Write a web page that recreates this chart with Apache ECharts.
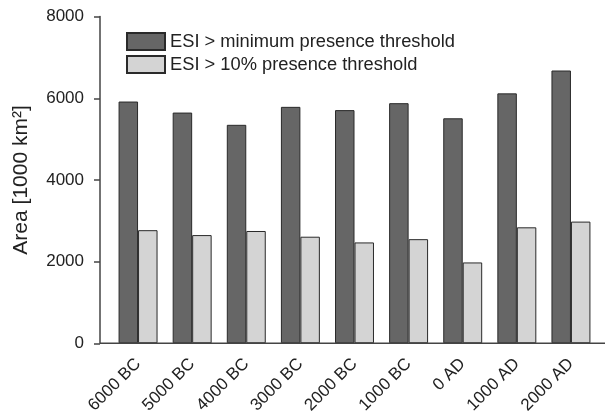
<!DOCTYPE html>
<html lang="en">
  <head>
    <meta charset="UTF-8" />
    <title>ESI area</title>
    <script src="https://cdn.jsdelivr.net/npm/echarts@6/dist/echarts.min.js"></script>
    <style>
      html, body { margin: 0; padding: 0; background: #fff; }
      #main { width: 605px; height: 418px; }
    </style>
  </head>
  <body>
    <div id="main"></div>
    <script>
      // data
      var periods = ["6000 BC", "5000 BC", "4000 BC", "3000 BC", "2000 BC", "1000 BC", "0 AD", "1000 AD", "2000 AD"];
      var minThreshold = [5920, 5650, 5350, 5790, 5710, 5880, 5510, 6120, 6680];
      var tenPctThreshold = [2770, 2650, 2750, 2610, 2470, 2550, 1980, 2840, 2980];
      var seriesNames = ["ESI > minimum presence threshold", "ESI > 10% presence threshold"];

      var chart = echarts.init(document.getElementById("main"));
      var font = "Liberation Sans, Arial, sans-serif";

      var option = {
        animation: false,
        textStyle: { fontFamily: font },
        grid: { left: 111, right: 7, top: 16.6, bottom: 74.7 },
        legend: {
          orient: "vertical",
          left: 121,
          top: 27,
          icon: "rect",
          itemWidth: 38,
          itemHeight: 17,
          itemGap: 4,
          textStyle: { fontSize: 18.3, color: "#222", fontFamily: font },
          data: seriesNames
        },
        xAxis: {
          type: "category",
          data: periods,
          axisLine: { show: false },
          axisTick: { alignWithLabel: true, length: 6, lineStyle: { color: "#444", width: 1.5 } },
          axisLabel: {
            rotate: 45,
            margin: 18,
            fontSize: 17,
            color: "#222",
            fontFamily: font
          }
        },
        yAxis: {
          type: "value",
          min: 0,
          max: 8000,
          interval: 2000,
          offset: 11,
          name: "Area [1000 km²]",
          nameLocation: "middle",
          nameGap: 68,
          nameTextStyle: { fontSize: 21, color: "#222", fontFamily: font },
          axisLine: { show: true, lineStyle: { color: "#444", width: 1.5 } },
          axisTick: { show: true, length: 6, lineStyle: { color: "#444", width: 1.5 } },
          axisLabel: {
            fontSize: 17,
            color: "#222",
            margin: 16,
            fontFamily: font,
            formatter: function (v) { return String(v); }
          },
          splitLine: { show: false }
        },
        graphic: [
          {
            // baseline spanning the full plot width
            type: "line",
            shape: { x1: 100, y1: 343.3, x2: 605, y2: 343.3 },
            style: { stroke: "#444", lineWidth: 1.5 },
            z: 10
          }
        ],
        series: [
          {
            name: seriesNames[0],
            type: "bar",
            data: minThreshold,
            barGap: "0%",
            barCategoryGap: "28%",
            itemStyle: { color: "#666666", borderColor: "#2a2a2a", borderWidth: 1 }
          },
          {
            name: seriesNames[1],
            type: "bar",
            data: tenPctThreshold,
            itemStyle: { color: "#d4d4d4", borderColor: "#2a2a2a", borderWidth: 1 }
          }
        ]
      };
      chart.setOption(option);
    </script>
  </body>
</html>
